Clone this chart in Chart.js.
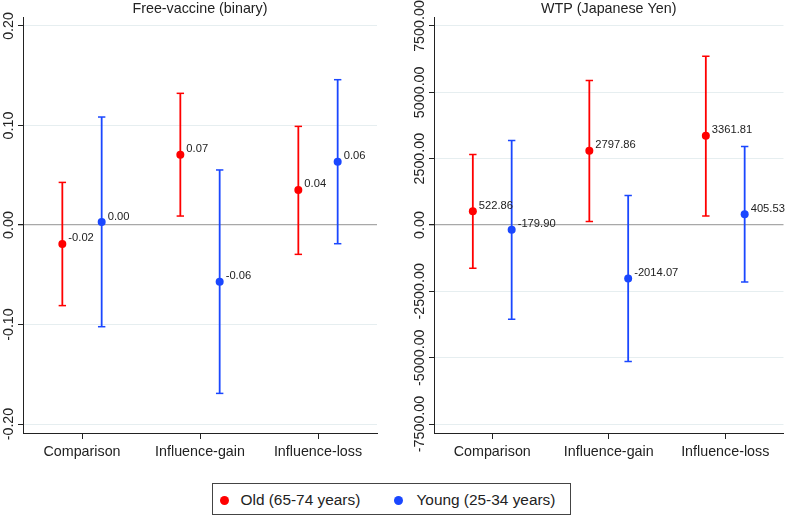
<!DOCTYPE html>
<html>
<head>
<meta charset="utf-8">
<script src="https://cdn.jsdelivr.net/npm/chart.js@4.4.1/dist/chart.umd.min.js"></script>
<style>
  body { margin: 0; background: #fff; font-family: 'Liberation Sans', Arial, sans-serif; }
  #wrap { position: relative; width: 789px; height: 517px; }
  canvas { position: absolute; top: 0; }
  #freeChart { left: 0; }
  #wtpChart { left: 395px; }
  .legend { position: absolute; left: 212px; top: 483px; width: 357px; height: 30px; border: 1px solid #444; color: #222; font-size: 15.4px; }
  .legend .dot { position: absolute; top: 11.5px; width: 9px; height: 9px; border-radius: 50%; }
  .legend .txt { position: absolute; top: 1px; line-height: 30px; white-space: nowrap; }
</style>
</head>
<body>
<div id="wrap">
  <canvas id="freeChart" width="395" height="470"></canvas>
  <canvas id="wtpChart" width="394" height="470"></canvas>
  <div class="legend">
    <span class="dot" style="left:6.5px;background:#ff0000"></span><span class="txt" id="legOld" style="left:27.5px"></span>
    <span class="dot" style="left:181px;background:#1a47ff"></span><span class="txt" id="legYoung" style="left:203.5px"></span>
  </div>
</div>
<script>
const categories = ['Comparison', 'Influence-gain', 'Influence-loss'];
const groups = ['Old (65-74 years)', 'Young (25-34 years)'];

// Free-vaccine (binary): estimates and 95% CI
const freeOld = [-0.019, 0.0707, 0.0352];
const freeOldLow = [-0.081, 0.009, -0.0295];
const freeOldHigh = [0.0428, 0.1323, 0.0991];
const freeYoung = [0.003, -0.057, 0.0636];
const freeYoungLow = [-0.1022, -0.1692, -0.0188];
const freeYoungHigh = [0.1085, 0.0553, 0.146];
const freeTicks = [-0.2, -0.1, 0, 0.1, 0.2];

// WTP (Japanese Yen): estimates and 95% CI
const wtpOld = [522.86, 2797.86, 3361.81];
const wtpOldLow = [-1634, 136, 339];
const wtpOldHigh = [2658, 5444, 6363];
const wtpYoung = [-179.90, -2014.07, 405.53];
const wtpYoungLow = [-3554, -5147, -2146];
const wtpYoungHigh = [3185, 1114, 2959];
const wtpTicks = [-7500, -5000, -2500, 0, 2500, 5000, 7500];

const oldColor = '#ff0000';
const youngColor = '#1a47ff';
const textColor = '#222';
const fontFamily = '"Liberation Sans", Arial, sans-serif';

document.getElementById('legOld').textContent = groups[0];
document.getElementById('legYoung').textContent = groups[1];

function buildDatasets(est, low, high) {
  const series = [
    { name: groups[0], est: est[0], lo: low[0], hi: high[0], color: oldColor, shift: -1 / 6 },
    { name: groups[1], est: est[1], lo: low[1], hi: high[1], color: youngColor, shift: 1 / 6 },
  ];
  const out = [];
  series.forEach((s) => {
    out.push({
      type: 'scatter',
      label: s.name,
      estimate: true,
      order: 0,
      data: s.est.map((v, i) => ({ x: i + 1 + s.shift, y: v })),
      backgroundColor: s.color,
      borderWidth: 0,
      pointRadius: 4,
    });
    out.push({
      type: 'scatter',
      label: s.name + ' caps',
      order: 1,
      data: s.lo.map((v, i) => ({ x: i + 1 + s.shift, y: v }))
        .concat(s.hi.map((v, i) => ({ x: i + 1 + s.shift, y: v }))),
      pointStyle: 'line',
      pointRadius: 3.7,
      borderColor: s.color,
      borderWidth: 1.5,
    });
    out.push({
      type: 'bar',
      label: s.name + ' CI',
      order: 2,
      grouped: false,
      maxBarThickness: 1.8,
      data: s.lo.map((v, i) => ({ x: i + 1 + s.shift, y: [v, s.hi[i]] })),
      backgroundColor: s.color,
      borderWidth: 0,
    });
  });
  return out;
}

const decorations = {
  id: 'decorations',
  afterDraw(chart, args, opts) {
    const { ctx, chartArea, scales: { y } } = chart;
    ctx.save();
    ctx.fillStyle = textColor;
    ctx.font = '14.3px ' + fontFamily;
    ctx.textAlign = 'center';
    ctx.textBaseline = 'alphabetic';
    ctx.fillText(opts.title, (chartArea.left + chartArea.right) / 2, 12.5);
    // y tick labels, rotated
    y.ticks.forEach((t) => {
      ctx.save();
      ctx.translate(chartArea.left - 14, y.getPixelForValue(t.value));
      ctx.rotate(-Math.PI / 2);
      ctx.textBaseline = 'middle';
      ctx.fillText(t.value.toFixed(2), 0, 0);
      ctx.restore();
    });
    // value labels next to the estimates
    ctx.font = '11.2px ' + fontFamily;
    ctx.textAlign = 'left';
    chart.data.datasets.forEach((ds, i) => {
      if (!ds.estimate) return;
      chart.getDatasetMeta(i).data.forEach((pt, j) => {
        ctx.fillText(ds.data[j].y.toFixed(2), pt.x + 6, pt.y - 2.5);
      });
    });
    ctx.restore();
  },
};

function makeChart(id, title, datasets, ticks, range, axisWidth, padRight) {
  return new Chart(document.getElementById(id), {
    type: 'bar',
    data: { datasets },
    options: {
      responsive: false,
      animation: false,
      layout: { padding: { top: 17, right: padRight, left: 0, bottom: 0 } },
      scales: {
        x: {
          type: 'linear',
          min: 0.5,
          max: 3.5,
          offset: false,
          afterBuildTicks: (s) => { s.ticks = categories.map((c, i) => ({ value: i + 1 })); },
          afterFit: (s) => { s.height = 37; },
          grid: { drawOnChartArea: false, drawTicks: true, tickLength: 6, tickColor: '#222', offset: false },
          border: { color: '#222', width: 1 },
          ticks: {
            autoSkip: false,
            maxRotation: 0,
            padding: 4,
            color: textColor,
            font: { family: fontFamily, size: 14.3 },
            callback: (v) => categories[Math.round(v) - 1],
          },
        },
        y: {
          type: 'linear',
          min: -range,
          max: range,
          afterBuildTicks: (s) => { s.ticks = ticks.map((v) => ({ value: v })); },
          afterFit: (s) => { s.width = axisWidth; },
          grid: {
            color: (c) => (c.tick && c.tick.value === 0 ? '#a8a8a8' : '#e6eef0'),
            lineWidth: (c) => (c.tick && c.tick.value === 0 ? 1.3 : 1),
            tickLength: 5,
            tickColor: '#222',
          },
          border: { color: '#222', width: 1 },
          ticks: { display: false },
        },
      },
      plugins: {
        legend: { display: false },
        tooltip: { enabled: false },
        decorations: { title },
      },
    },
    plugins: [decorations],
  });
}

makeChart('freeChart', 'Free-vaccine (binary)',
  buildDatasets([freeOld, freeYoung], [freeOldLow, freeYoungLow], [freeOldHigh, freeYoungHigh]),
  freeTicks, 0.209, 23, 18);

makeChart('wtpChart', 'WTP (Japanese Yen)',
  buildDatasets([wtpOld, wtpYoung], [wtpOldLow, wtpYoungLow], [wtpOldHigh, wtpYoungHigh]),
  wtpTicks, 7839, 39, 1);
</script>
</body>
</html>
